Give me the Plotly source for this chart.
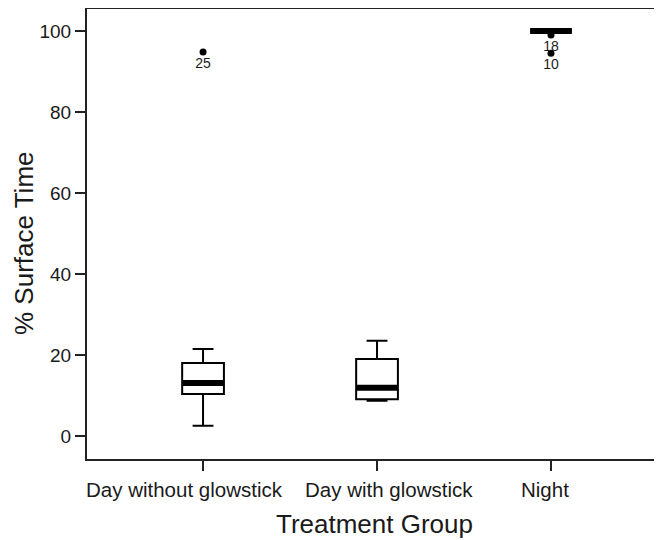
import plotly.graph_objects as go

categories = ["Day without glowstick", "Day with glowstick", "Night"]
positions = [0, 1, 2]
q1 = [10.4, 9.1, 100.0]
medians = [13.1, 11.9, 100.0]
q3 = [18.0, 19.0, 100.0]
lower_fence = [2.5, 8.7, 100.0]
upper_fence = [21.5, 23.5, 100.0]

outlier_x = [0, 2, 2]
outlier_y = [94.8, 99.0, 94.5]
outlier_labels = ["25", "18", "10"]

y_ticks = [0, 20, 40, 60, 80, 100]

# horizontal nudges of the category labels (style only)
label_shift = [-19, 12, -6]

BOX_W = 0.24
FONT = "Liberation Sans, Arial, sans-serif"
TXT = "#1a1a1a"

fig = go.Figure()
for i in range(len(categories)):
    fig.add_trace(go.Box(
        x=[positions[i]], q1=[q1[i]], median=[medians[i]], q3=[q3[i]],
        lowerfence=[lower_fence[i]], upperfence=[upper_fence[i]],
        width=BOX_W, whiskerwidth=0.5, fillcolor="white",
        line=dict(color="black", width=2), boxpoints=False,
        showlegend=False, hoverinfo="skip"))
    fig.add_trace(go.Scatter(
        x=[positions[i] - BOX_W / 2, positions[i] + BOX_W / 2],
        y=[medians[i], medians[i]], mode="lines",
        line=dict(color="black", width=6), showlegend=False, hoverinfo="skip"))

fig.add_trace(go.Scatter(
    x=outlier_x, y=outlier_y, mode="markers+text", text=outlier_labels,
    textposition="bottom center", textfont=dict(size=14, color=TXT, family=FONT),
    marker=dict(color="black", size=7), showlegend=False, hoverinfo="skip"))

annotations = []
for i, cat in enumerate(categories):
    annotations.append(dict(
        x=positions[i], xref="x", y=0, yref="paper", yanchor="top", xanchor="center",
        text=cat, showarrow=False, xshift=label_shift[i], yshift=-17,
        font=dict(size=20.5, color=TXT, family=FONT)))
annotations.append(dict(
    x=0, xref="paper", y=0.5, yref="paper", xanchor="center", yanchor="middle",
    text="% Surface Time", textangle=-90, showarrow=False, xshift=-63, yshift=-9,
    font=dict(size=26, color=TXT, family=FONT)))

fig.update_layout(
    width=654, height=532,
    margin=dict(l=79, r=0, t=1, b=81),
    plot_bgcolor="white", paper_bgcolor="white",
    font=dict(family=FONT, color=TXT),
    annotations=annotations,
    xaxis=dict(
        range=[-0.667, 2.638], tickmode="array", tickvals=positions, showticklabels=False,
        showline=True, linecolor="#222", linewidth=2, mirror=True,
        ticks="outside", ticklen=10, tickwidth=2, tickcolor="#222",
        showgrid=False, zeroline=False, automargin=False,
        title=dict(text="Treatment Group", font=dict(size=26, color=TXT), standoff=45)),
    yaxis=dict(
        range=[-5.68, 105.43], tickmode="array", tickvals=y_ticks,
        ticksuffix="\u2002",
        showline=True, linecolor="#222", linewidth=2, mirror=False,
        ticks="outside", ticklen=10, tickwidth=2, tickcolor="#222",
        showgrid=False, zeroline=False, tickfont=dict(size=19, color=TXT),
        automargin=False),
)

fig.write_html("out.html")
